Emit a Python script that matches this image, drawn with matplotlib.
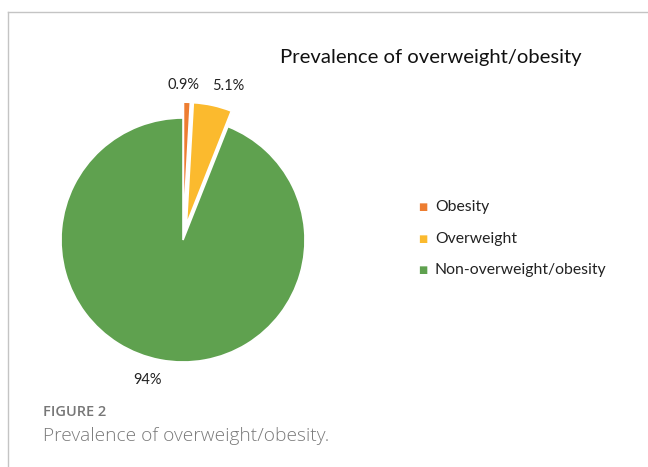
import matplotlib.pyplot as plt
from matplotlib.lines import Line2D

# data
categories = ['Obesity', 'Overweight', 'Non-overweight/obesity']
values = [0.9, 5.1, 94]
pct_labels = ['0.9%', '5.1%', '94%']
colors = ['#ED7D31', '#FBBA2E', '#5FA14F']
explode = [0.13, 0.13, 0]

W, H = 648, 467
fig = plt.figure(figsize=(W / 100, H / 100), dpi=100)

# pie axes: centre at (183, 240) px, radius ~122 px
r = 122
span = 1.25
side = 2 * span * r
ax = fig.add_axes([(183 - side / 2) / W, (H - 240 - side / 2) / H, side / W, side / H])
wedges, _ = ax.pie(values, colors=colors, explode=explode, startangle=90,
                   counterclock=False, radius=1,
                   wedgeprops=dict(edgecolor='white', linewidth=1.2))
ax.set_xlim(-span, span)
ax.set_ylim(-span, span)
ax.set_aspect('equal')
ax.axis('off')

# data labels
label_pos = [(0.0, 1.27), (0.37, 1.26), (-0.29, -1.15)]
for txt, (x, y) in zip(pct_labels, label_pos):
    ax.text(x, y, txt, ha='center', va='center', fontsize=10.5,
            family='Lato', color='#222222')

# title
fig.text(431 / W, 1 - 58 / H, 'Prevalence of overweight/obesity',
         ha='center', va='center', fontsize=14.6, family='Lato', color='#111111')

# legend
leg_y = [207, 239, 270]
for name, c, y in zip(categories, colors, leg_y):
    fig.text(423 / W, 1 - y / H, '\u25A0', ha='center', va='center',
             fontsize=7, color=c, family='DejaVu Sans')
    fig.text(435 / W, 1 - y / H, name, ha='left', va='center',
             fontsize=11.3, family='Lato', color='#222222')

# frame lines
fig.add_artist(Line2D([8 / W, 1], [1 - 12 / H, 1 - 12 / H], color='#c4c4c4', lw=1))
fig.add_artist(Line2D([8 / W, 8 / W], [1 - 12 / H, 0], color='#c4c4c4', lw=1))

# caption
fig.text(43 / W, 1 - 412 / H, 'FIGURE 2', ha='left', va='center',
         fontsize=10.5, family='Open Sans', color='#777777', weight='semibold')
fig.text(43 / W, 1 - 436 / H, 'Prevalence of overweight/obesity.', ha='left',
         va='center', fontsize=13.8, family='Open Sans', color='#7a7a7a',
         weight='light')

fig.savefig('out.png', dpi=100)
